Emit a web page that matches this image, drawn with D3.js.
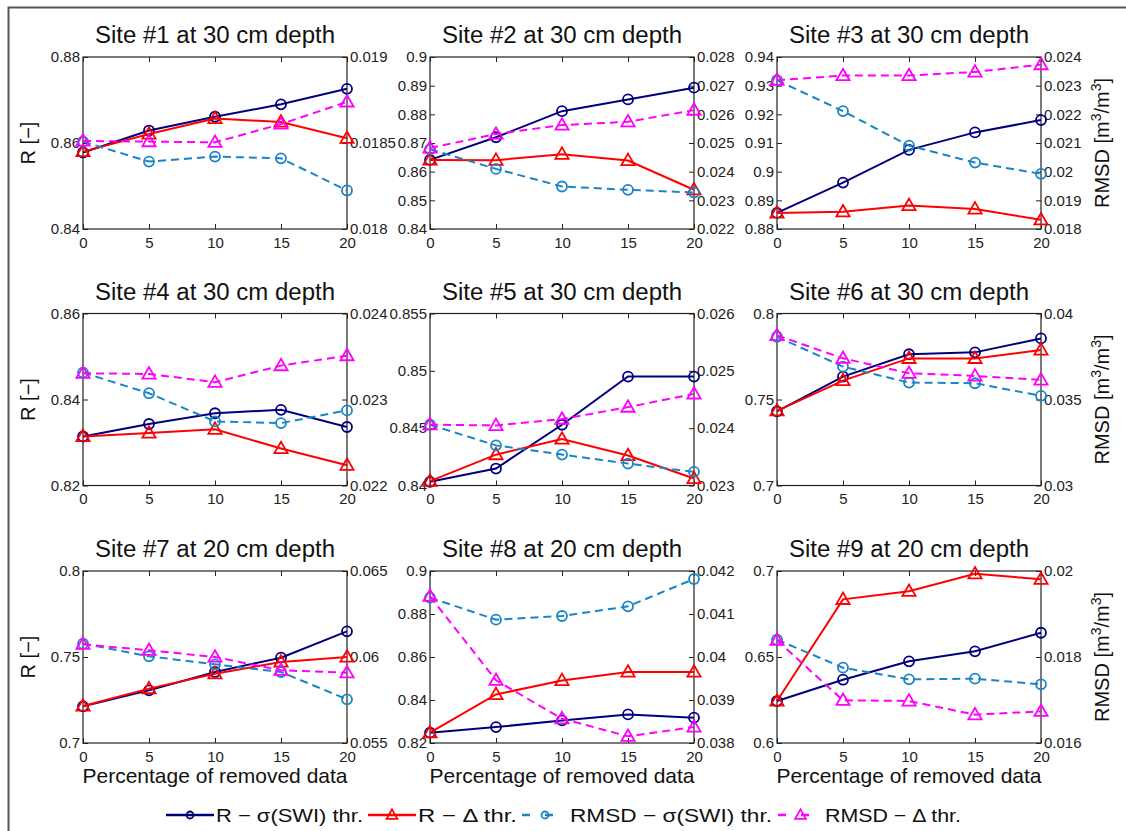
<!DOCTYPE html>
<html>
<head>
<meta charset="utf-8">
<script src="https://cdn.jsdelivr.net/npm/d3@7"></script>
<style>
  html, body { margin: 0; padding: 0; background: #fff; }
  svg { display: block; font-family: "Liberation Sans", Arial, Helvetica, sans-serif; }
</style>
</head>
<body>
<svg id="chart" width="1126" height="831"></svg>
<script>
// ---------------- data ----------------
const xValues = [0, 5, 10, 15, 20];
const xTicks = [0, 5, 10, 15, 20];

const siteTitles = [
  "Site #1 at 30 cm depth", "Site #2 at 30 cm depth", "Site #3 at 30 cm depth",
  "Site #4 at 30 cm depth", "Site #5 at 30 cm depth", "Site #6 at 30 cm depth",
  "Site #7 at 20 cm depth", "Site #8 at 20 cm depth", "Site #9 at 20 cm depth"
];

const rTicks = [
  [0.84, 0.86, 0.88],
  [0.84, 0.85, 0.86, 0.87, 0.88, 0.89, 0.9],
  [0.88, 0.89, 0.9, 0.91, 0.92, 0.93, 0.94],
  [0.82, 0.84, 0.86],
  [0.84, 0.845, 0.85, 0.855],
  [0.7, 0.75, 0.8],
  [0.7, 0.75, 0.8],
  [0.82, 0.84, 0.86, 0.88, 0.9],
  [0.6, 0.65, 0.7]
];

const rmsdTicks = [
  [0.018, 0.0185, 0.019],
  [0.022, 0.023, 0.024, 0.025, 0.026, 0.027, 0.028],
  [0.018, 0.019, 0.02, 0.021, 0.022, 0.023, 0.024],
  [0.022, 0.023, 0.024],
  [0.023, 0.024, 0.025, 0.026],
  [0.03, 0.035, 0.04],
  [0.055, 0.06, 0.065],
  [0.038, 0.039, 0.04, 0.041, 0.042],
  [0.016, 0.018, 0.02]
];

// R - sigma(SWI) threshold
const rSigma = [
  [0.8578, 0.8629, 0.8661, 0.8690, 0.8726],
  [0.8641, 0.8720, 0.8811, 0.8852, 0.8893],
  [0.8856, 0.8962, 0.9076, 0.9137, 0.9180],
  [0.8314, 0.8343, 0.8368, 0.8376, 0.8336],
  [0.84032, 0.84148, 0.8453, 0.8495, 0.8495],
  [0.7431, 0.7633, 0.7763, 0.7774, 0.7855],
  [0.7213, 0.7306, 0.7413, 0.7496, 0.7649],
  [0.8248, 0.8274, 0.8305, 0.8333, 0.8318],
  [0.6244, 0.6368, 0.6475, 0.6533, 0.6641]
];

// R - Delta threshold
const rDelta = [
  [0.8580, 0.8621, 0.8657, 0.8649, 0.8611],
  [0.8641, 0.8640, 0.8661, 0.8639, 0.8537],
  [0.8856, 0.8860, 0.8882, 0.8870, 0.8832],
  [0.8314, 0.8322, 0.8331, 0.8286, 0.8247],
  [0.84038, 0.84269, 0.84405, 0.84261, 0.84061],
  [0.7434, 0.7610, 0.7739, 0.7739, 0.7788],
  [0.7215, 0.7316, 0.7403, 0.7471, 0.7500],
  [0.8248, 0.8426, 0.8491, 0.8530, 0.8530],
  [0.6244, 0.6835, 0.6882, 0.6984, 0.6952]
];

// RMSD - sigma(SWI) threshold
const rmsdSigma = [
  [0.018508, 0.018392, 0.018421, 0.018411, 0.018224],
  [0.02478, 0.024097, 0.023483, 0.023367, 0.023274],
  [0.02319, 0.022112, 0.020907, 0.020317, 0.019923],
  [0.023313, 0.023073, 0.022745, 0.022726, 0.022873],
  [0.02406, 0.0237, 0.023539, 0.023382, 0.023237],
  [0.038649, 0.036911, 0.035985, 0.035946, 0.035212],
  [0.060775, 0.060039, 0.059574, 0.059128, 0.057539],
  [0.04138, 0.040868, 0.040953, 0.041178, 0.041814],
  [0.018403, 0.017752, 0.01748, 0.017496, 0.017364]
];

// RMSD - Delta threshold
const rmsdDelta = [
  [0.018512, 0.018508, 0.018504, 0.01861, 0.018739],
  [0.024826, 0.025313, 0.025625, 0.025741, 0.026147],
  [0.02319, 0.023351, 0.023351, 0.023479, 0.023734],
  [0.023305, 0.023297, 0.023201, 0.023394, 0.02351],
  [0.02406, 0.024048, 0.024158, 0.024367, 0.024598],
  [0.038726, 0.037394, 0.036525, 0.036371, 0.036139],
  [0.060736, 0.060388, 0.06, 0.059225, 0.059089],
  [0.041411, 0.039457, 0.038566, 0.038155, 0.038372],
  [0.018388, 0.016992, 0.016977, 0.016659, 0.016736]
];

const seriesNames = ["R \u2212 \u03C3(SWI) thr.", "R \u2212 \u0394 thr.", "RMSD \u2212 \u03C3(SWI) thr.", "RMSD \u2212 \u0394 thr."];

// ---------------- layout / style ----------------
const colNavy = "#00007f", colRed = "#ff0000", colBlue = "#1a85c6", colMag = "#ff00ff";
const series = [
  { data: rSigma, axis: "r", color: colNavy, dash: null, marker: "circle" },
  { data: rDelta, axis: "r", color: colRed, dash: null, marker: "triangle" },
  { data: rmsdSigma, axis: "rmsd", color: colBlue, dash: "8,5", marker: "circle" },
  { data: rmsdDelta, axis: "rmsd", color: colMag, dash: "8,5", marker: "triangle" }
];

const colLeft = [83, 430, 777];
const rowTop = [57, 313.5, 571];
const plotW = 264, plotH = 172;

const fmt = v => String(+v.toPrecision(6));

const svg = d3.select("#chart");

// outer frame
svg.append("rect").attr("x", 8.5).attr("y", 7.5).attr("width", 1300).attr("height", 1000)
  .attr("fill", "none").attr("stroke", "#555").attr("stroke-width", 2);

const triPath = s => `M0,${-s * 0.62}L${s * 0.6},${s * 0.42}L${-s * 0.6},${s * 0.42}Z`;

for (let i = 0; i < 9; i++) {
  const col = i % 3, row = Math.floor(i / 3);
  const x0 = colLeft[col], y0 = rowTop[row];
  const g = svg.append("g").attr("transform", `translate(${x0},${y0})`);

  const x = d3.scaleLinear().domain([0, 20]).range([0, plotW]);
  const rt = rTicks[i], mt = rmsdTicks[i];
  const yR = d3.scaleLinear().domain([rt[0], rt[rt.length - 1]]).range([plotH, 0]);
  const yM = d3.scaleLinear().domain([mt[0], mt[mt.length - 1]]).range([plotH, 0]);

  // box
  g.append("rect").attr("x", 0).attr("y", 0).attr("width", plotW).attr("height", plotH)
    .attr("fill", "#fff").attr("stroke", "#222").attr("stroke-width", 1.2);

  // axes (ticks inside)
  const axB = d3.axisBottom(x).tickValues(xTicks).tickSize(-5).tickPadding(8).tickFormat(fmt);
  const axT = d3.axisTop(x).tickValues(xTicks).tickSize(-5).tickFormat("");
  const axL = d3.axisLeft(yR).tickValues(rt).tickSize(-5).tickPadding(3).tickFormat(fmt);
  const axR = d3.axisRight(yM).tickValues(mt).tickSize(-5).tickPadding(3).tickFormat(fmt);

  const styleAx = sel => {
    sel.select(".domain").remove();
    sel.selectAll(".tick line").attr("stroke", "#222");
    sel.selectAll(".tick text").attr("fill", "#222").style("font-size", "15px")
      .style("font-family", '"Liberation Sans", Arial, sans-serif');
  };
  g.append("g").attr("transform", `translate(0,${plotH})`).call(axB).call(styleAx);
  g.append("g").call(axT).call(styleAx);
  g.append("g").call(axL).call(styleAx);
  g.append("g").attr("transform", `translate(${plotW},0)`).call(axR).call(styleAx);

  // series
  series.forEach(s => {
    const yS = s.axis === "r" ? yR : yM;
    const vals = s.data[i];
    const line = d3.line().x((d, k) => x(xValues[k])).y(d => yS(d));
    g.append("path").datum(vals).attr("d", line).attr("fill", "none")
      .attr("stroke", s.color).attr("stroke-width", 2)
      .attr("stroke-dasharray", s.dash);
    const mk = g.append("g");
    if (s.marker === "circle") {
      mk.selectAll("circle").data(vals).join("circle")
        .attr("cx", (d, k) => x(xValues[k])).attr("cy", d => yS(d)).attr("r", 5)
        .attr("fill", "none").attr("stroke", s.color).attr("stroke-width", 1.8);
    } else {
      mk.selectAll("path").data(vals).join("path")
        .attr("transform", (d, k) => `translate(${x(xValues[k])},${yS(d)})`)
        .attr("d", triPath(11)).attr("fill", "none").attr("stroke", s.color)
        .attr("stroke-width", 1.8);
    }
  });

  // title
  g.append("text").attr("x", plotW / 2).attr("y", -14).attr("text-anchor", "middle")
    .attr("textLength", 240).attr("lengthAdjust", "spacingAndGlyphs")
    .style("font-size", "23px").attr("fill", "#111").text(siteTitles[i]);

  if (col === 0) {
    g.append("text").attr("transform", `translate(${35 - x0},${plotH / 2}) rotate(-90)`)
      .attr("text-anchor", "middle").style("font-size", "20px").attr("fill", "#111")
      .text("R [\u2212]");
  }
  if (col === 2) {
    const t = g.append("text").attr("transform", `translate(${1109 - x0},${plotH / 2}) rotate(-90)`)
      .attr("text-anchor", "middle").style("font-size", "20px").attr("fill", "#111");
    t.append("tspan").text("RMSD [m");
    t.append("tspan").attr("dy", -8).style("font-size", "14px").text("3");
    t.append("tspan").attr("dy", 8).text("/m");
    t.append("tspan").attr("dy", -8).style("font-size", "14px").text("3");
    t.append("tspan").attr("dy", 8).text("]");
  }
  if (row === 2) {
    g.append("text").attr("x", plotW / 2).attr("y", plotH + 40).attr("text-anchor", "middle")
      .style("font-size", "21px").attr("fill", "#111").text("Percentage of removed data");
  }
}

// legend
const legendY = 815;
const legendItems = [
  { s: series[0], x1: 166, x2: 214, tx: 216, tw: 147 },
  { s: series[1], x1: 368, x2: 416, tx: 418, tw: 99 },
  { s: series[2], x1: 522, x2: 568, tx: 570, tw: 202 },
  { s: series[3], x1: 778, x2: 823, tx: 825, tw: 136 }
];
const lg = svg.append("g");
legendItems.forEach((it, k) => {
  const s = it.s;
  lg.append("line").attr("x1", it.x1).attr("x2", it.x2).attr("y1", legendY).attr("y2", legendY)
    .attr("stroke", s.color).attr("stroke-width", 2.5)
    .attr("stroke-dasharray", s.dash ? "8,15" : null);
  const mx = (it.x1 + it.x2) / 2;
  if (s.marker === "circle") {
    lg.append("circle").attr("cx", mx).attr("cy", legendY).attr("r", 3.5)
      .attr("fill", "none").attr("stroke", s.color).attr("stroke-width", 1.8);
  } else {
    lg.append("path").attr("transform", `translate(${mx},${legendY})`).attr("d", triPath(9))
      .attr("fill", "none").attr("stroke", s.color).attr("stroke-width", 1.8);
  }
  lg.append("text").attr("x", it.tx).attr("y", legendY + 7)
    .attr("textLength", it.tw).attr("lengthAdjust", "spacingAndGlyphs")
    .style("font-size", "19px").attr("fill", "#111").text(seriesNames[k]);
});
</script>
</body>
</html>
